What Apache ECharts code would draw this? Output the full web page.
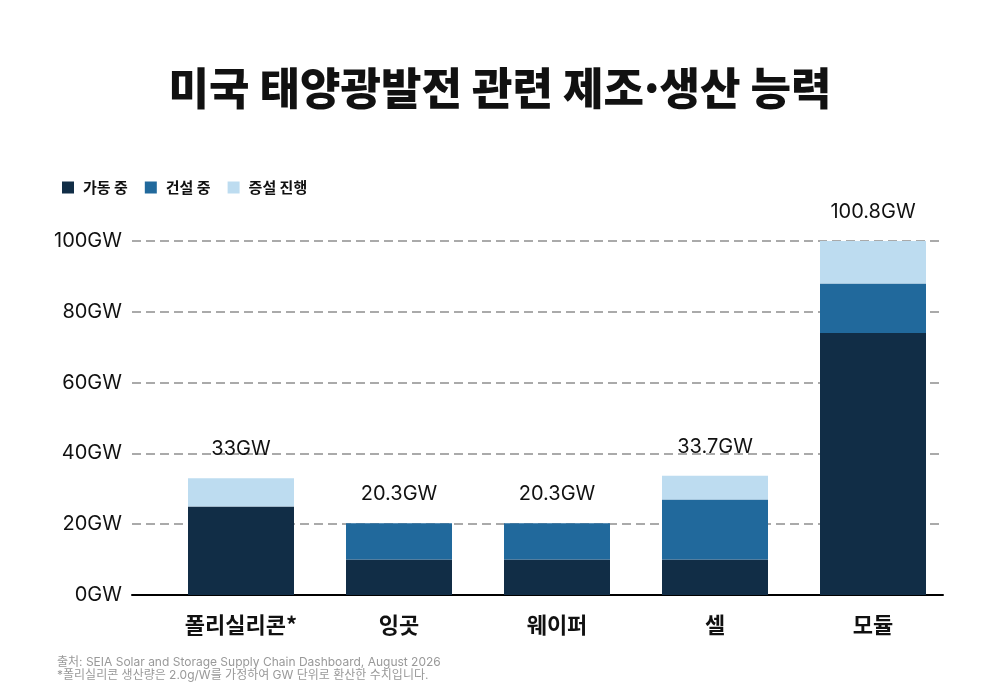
<!DOCTYPE html>
<html lang="ko">
<head>
<meta charset="utf-8">
<script src="https://cdn.jsdelivr.net/npm/echarts@6/dist/echarts.min.js"></script>
<style>
  html, body { margin: 0; padding: 0; background: #fff; }
  #chart { width: 1000px; height: 700px; }
</style>
</head>
<body>
<div id="chart"></div>
<script>
// 카테고리와 값 (GW)
const categories = ["폴리실리콘*", "잉곳", "웨이퍼", "셀", "모듈"];
const operating = [25, 10, 10, 10, 74];       // 가동 중
const construction = [0, 10.3, 10.3, 17, 14];  // 건설 중
const expansion = [8, 0, 0, 6.7, 12.8];        // 증설 진행
const totals = ["33", "20.3", "20.3", "33.7", "100.8"];
const yTicks = [0, 20, 40, 60, 80, 100];

const FONT = "Inter, 'Noto Sans CJK KR', sans-serif";
const KFONT = "'Noto Sans CJK KR', sans-serif";

const chart = echarts.init(document.getElementById("chart"));

chart.setOption({
    backgroundColor: "#fff",
    animation: false,
    title: {
        text: "미국 태양광발전 관련 제조·생산 능력",
        left: "center",
        top: 61,
        textStyle: { fontFamily: KFONT, fontSize: 44, fontWeight: 900, color: "#111" }
    },
    legend: {
        left: 57,
        top: 175,
        icon: "rect",
        itemWidth: 12,
        itemHeight: 12,
        itemGap: 17,
        data: ["가동 중", "건설 중", "증설 진행"],
        textStyle: { fontFamily: KFONT, fontSize: 15, fontWeight: "bold", color: "#111", padding: [0, 0, 0, 4] }
    },
    grid: [
        { left: 132, right: 57, top: 241, bottom: 105 },
        { left: 162, right: 48, top: 241, bottom: 105 }
    ],
    xAxis: [
        {
            gridIndex: 0,
            type: "category",
            data: categories,
            axisLine: { lineStyle: { color: "#000", width: 2 } },
            axisTick: { show: false },
            axisLabel: { show: false }
        },
        {
            gridIndex: 1,
            type: "category",
            data: categories,
            axisLine: { show: false },
            axisTick: { show: false },
            axisLabel: { margin: 19, fontFamily: KFONT, fontSize: 22, fontWeight: "bold", color: "#111" }
        }
    ],
    yAxis: [
        {
            gridIndex: 0,
            type: "value",
            min: yTicks[0],
            max: yTicks[yTicks.length - 1],
            interval: 20,
            axisLine: { show: false },
            axisTick: { show: false },
            axisLabel: { margin: 10, fontFamily: FONT, fontSize: 20, color: "#111", formatter: "{value}GW" },
            splitLine: { lineStyle: { color: "#aaa", width: 2, type: [9, 5] } }
        },
        {
            gridIndex: 1,
            type: "value",
            min: 0,
            max: 100,
            show: false,
            splitLine: { show: false }
        }
    ],
    series: [
        {
            name: "가동 중",
            type: "bar",
            stack: "cap",
            xAxisIndex: 1,
            yAxisIndex: 1,
            barWidth: 106,
            data: operating,
            itemStyle: { color: "#112d46" }
        },
        {
            name: "건설 중",
            type: "bar",
            stack: "cap",
            xAxisIndex: 1,
            yAxisIndex: 1,
            barWidth: 106,
            data: construction,
            itemStyle: { color: "#21699c" }
        },
        {
            name: "증설 진행",
            type: "bar",
            stack: "cap",
            xAxisIndex: 1,
            yAxisIndex: 1,
            barWidth: 106,
            data: expansion,
            itemStyle: { color: "#bddcf0" },
            label: {
                show: true,
                position: "top",
                distance: 19,
                fontFamily: FONT,
                fontSize: 20,
                color: "#111",
                formatter: p => totals[p.dataIndex] + "GW"
            }
        }
    ],
    graphic: [
        {
            type: "text",
            left: 57,
            top: 656,
            style: {
                text: "출처: SEIA Solar and Storage Supply Chain Dashboard, August 2026\n*폴리실리콘 생산량은 2.0g/W를 가정하여 GW 단위로 환산한 수치입니다.",
                fontFamily: FONT,
                fontSize: 12,
                lineHeight: 13,
                fill: "#999"
            }
        }
    ]
});
</script>
</body>
</html>
